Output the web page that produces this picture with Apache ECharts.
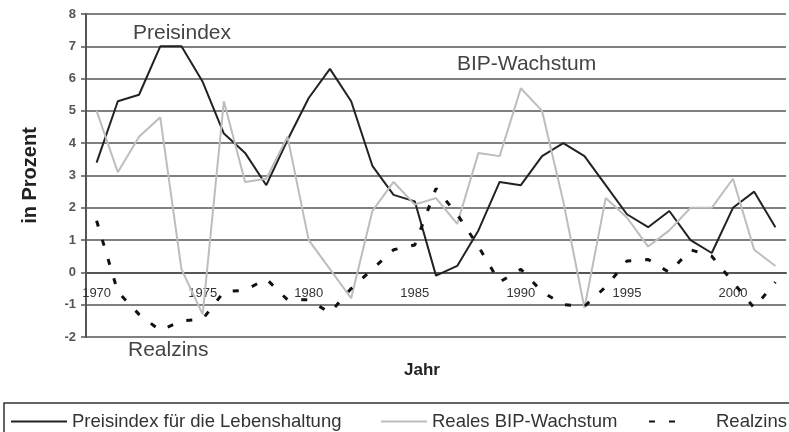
<!DOCTYPE html>
<html>
<head>
<meta charset="utf-8">
<script src="https://cdn.jsdelivr.net/npm/echarts@6/dist/echarts.min.js"></script>
<style>
  html, body { margin: 0; padding: 0; background: #fff; }
  #chart { width: 789px; height: 432px; }
</style>
</head>
<body>
<div id="chart"></div>
<script>
// Jahre 1970 - 2002
var years = [];
for (var y = 1970; y <= 2002; y++) years.push(String(y));

var preisindex = [3.4, 5.3, 5.5, 7.0, 7.0, 5.9, 4.3, 3.7, 2.7, 4.1, 5.4, 6.3, 5.3, 3.3, 2.4, 2.2, -0.1,
  0.2, 1.3, 2.8, 2.7, 3.6, 4.0, 3.6, 2.7, 1.8, 1.4, 1.9, 1.0, 0.6, 2.0, 2.5, 1.4];
var bipWachstum = [5.0, 3.1, 4.2, 4.8, 0.1, -1.3, 5.3, 2.8, 2.9, 4.2, 1.0, 0.1, -0.8, 1.9, 2.8, 2.1, 2.3,
  1.5, 3.7, 3.6, 5.7, 5.0, 2.2, -1.1, 2.3, 1.7, 0.8, 1.3, 2.0, 2.0, 2.9, 0.7, 0.2];
var realzins = [1.6, -0.6, -1.3, -1.8, -1.5, -1.45, -0.6, -0.55, -0.2, -0.85, -0.85, -1.25, -0.5, 0.1, 0.7, 0.85, 2.6,
  1.8, 0.8, -0.3, 0.1, -0.6, -1.0, -1.05, -0.45, 0.35, 0.4, 0.0, 0.7, 0.5, -0.3, -1.1, -0.3];

var names = ['Preisindex für die Lebenshaltung', 'Reales BIP-Wachstum', 'Realzins'];
var font = 'Liberation Sans, Arial, sans-serif';
var yMin = -2, yMax = 8;
var gridTop = 14, gridBottom = 95;

var myChart = echarts.init(document.getElementById('chart'));

// x-Achse auf der Nulllinie: um den Abstand von min bis 0 nach oben verschieben
var plotH = 432 - gridTop - gridBottom;
var zeroOffset = -plotH * (0 - yMin) / (yMax - yMin);

function legendAt(left, name, width, pad) {
  return {
    left: left, top: 412, padding: 0,
    itemWidth: width, itemHeight: 18,
    data: [name],
    itemStyle: { opacity: 0 },
    textStyle: { fontFamily: font, fontSize: 18.5, color: '#333', padding: pad || 0 }
  };
}

var option = {
  animation: false,
  backgroundColor: '#fff',
  grid: { left: 86, right: 3, top: gridTop, bottom: gridBottom },
  legend: [
    legendAt(10, names[0], 56),
    legendAt(380, names[1], 46),
    legendAt(648, names[2], 30, [0, 0, 0, 32])
  ],
  xAxis: {
    type: 'category',
    data: years,
    boundaryGap: true,
    offset: zeroOffset,
    axisLine: { onZero: false, lineStyle: { color: '#555', width: 2 } },
    axisTick: { interval: 0, length: 4, lineStyle: { color: '#555', width: 1.5 } },
    axisLabel: { interval: 4, margin: 15, fontFamily: font, fontSize: 13, color: '#333' },
    splitLine: { show: false }
  },
  yAxis: {
    type: 'value',
    min: yMin, max: yMax, interval: 1,
    name: 'in Prozent',
    nameLocation: 'middle',
    nameGap: 46,
    nameTextStyle: { fontFamily: font, fontSize: 20, fontWeight: 'bold', color: '#222' },
    axisLine: { show: true, lineStyle: { color: '#555', width: 2 } },
    axisTick: { show: true, length: 5, lineStyle: { color: '#555', width: 1.5 } },
    axisLabel: { margin: 10, fontFamily: font, fontSize: 13, fontWeight: 'bold', color: '#555' },
    splitLine: { lineStyle: { color: '#808080', width: 2 } }
  },
  graphic: [
    { type: 'text', left: 133, top: 23, style: { text: 'Preisindex', font: '21px ' + font, fill: '#444' } },
    { type: 'text', left: 457, top: 54, style: { text: 'BIP-Wachstum', font: '21px ' + font, fill: '#444' } },
    { type: 'text', left: 128, top: 340, style: { text: 'Realzins', font: '21px ' + font, fill: '#444' } },
    { type: 'text', left: 404, top: 362, style: { text: 'Jahr', font: 'bold 17px ' + font, fill: '#222' } },
    { type: 'rect', shape: { x: 4, y: 403, width: 800, height: 40 }, style: { fill: 'none', stroke: '#333', lineWidth: 1.5 }, z: -1 }
  ],
  series: [
    {
      name: names[0], type: 'line', data: preisindex, symbol: 'none',
      lineStyle: { color: '#222', width: 2 }, itemStyle: { color: '#222' }
    },
    {
      name: names[1], type: 'line', data: bipWachstum, symbol: 'none',
      lineStyle: { color: '#bdbdbd', width: 2 }, itemStyle: { color: '#bdbdbd' }
    },
    {
      name: names[2], type: 'line', data: realzins, symbol: 'none',
      lineStyle: { color: '#111', width: 3, type: [6, 14] }, itemStyle: { color: '#111' }
    }
  ]
};

myChart.setOption(option);
window.addEventListener('resize', function () {
  myChart.resize();
});
</script>
</body>
</html>
